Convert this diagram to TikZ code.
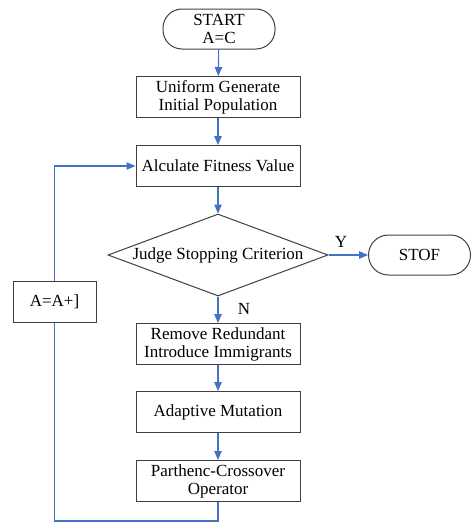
\documentclass[tikz,border=0pt]{standalone}
\usepackage{fontspec}
\setmainfont{Liberation Serif}
\usetikzlibrary{shapes.geometric,arrows.meta}
\definecolor{flowblue}{HTML}{4472C4}
\tikzset{
  box/.style={draw=black!75, line width=1pt, minimum width=164pt, minimum height=41pt, inner sep=0pt, align=center, font=\fontsize{17}{18}\selectfont},
  term/.style={box, rounded corners=19pt},
  flow/.style={draw=flowblue, line width=1.1pt, -{Triangle[length=9pt,width=7.5pt]}},
  link/.style={draw=flowblue, line width=1.1pt},
  lab/.style={font=\fontsize{17}{18}\selectfont, inner sep=0pt}
}
\begin{document}
\begin{tikzpicture}[x=1pt,y=-1pt]
\useasboundingbox (0,0) rectangle (472,522);
\node[term, minimum width=112pt, minimum height=40pt] (start) at (219,29) {START\\A=C};
\node[box] (uni) at (218,97) {Uniform Generate\\Initial Population};
\node[box] (calc) at (218,166) {Alculate Fitness Value};
\node[draw=black!75, line width=1pt, diamond, minimum width=220pt, minimum height=82pt, inner sep=0pt] (judge) at (218,255) {};
\node[lab] (judgetxt) at (218,255) {Judge Stopping Criterion};
\node[term, minimum width=102pt, minimum height=40pt, rounded corners=20pt] (stop) at (419.5,255) {STOF};
\node[box] (rem) at (218,344) {Remove Redundant\\Introduce Immigrants};
\node[box] (adp) at (218,412) {Adaptive Mutation};
\node[box] (par) at (218,481) {Parthenc-Crossover\\Operator};
\node[box, minimum width=83pt] (inc) at (54.5,302) {A=A+]};
\node[lab] (ylab) at (341,242) {Y};
\node[lab] (nlab) at (244,309) {N};
\coordinate (bot) at (218,521);
\draw[flow] (start) -- (uni);
\draw[flow] (uni) -- (calc);
\draw[flow] (calc) -- (judge.north);
\draw[flow] (judge.east) -- (stop.west);
\draw[flow] (judge.south) -- (rem);
\draw[flow] (rem) -- (adp);
\draw[flow] (adp) -- (par);
\draw[link] (par.south) -- (bot) -| (inc.south);
\draw[flow] (inc.north) |- (calc.west);
\end{tikzpicture}
\end{document}
